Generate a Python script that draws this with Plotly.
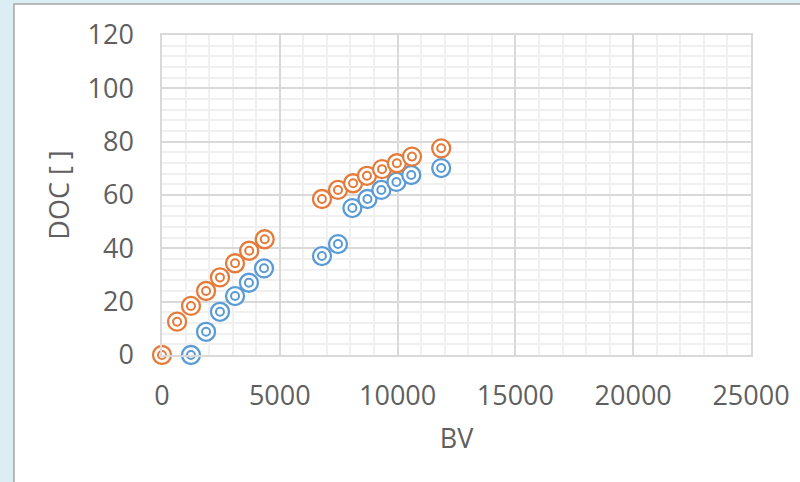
import plotly.graph_objects as go

# series
bv_blue = [1230, 1870, 2460, 3100, 3690, 4330, 6790, 7470, 8080, 8720, 9310, 9950, 10580, 11850]
doc_blue = [0, 8.7, 16.2, 22.1, 27.1, 32.5, 37.1, 41.6, 55.1, 58.5, 61.9, 64.9, 67.5, 70.1]

bv_orange = [0, 640, 1230, 1870, 2460, 3100, 3700, 4360, 6790, 7470, 8110, 8700, 9340, 9970, 10610, 11850]
doc_orange = [0, 12.5, 18.4, 24.0, 29.1, 34.4, 39.1, 43.4, 58.5, 61.9, 64.4, 67.2, 69.7, 71.9, 74.4, 77.5]

BLUE = "#5B9BD5"
ORANGE = "#E57B3A"

fig = go.Figure()


def add_ring_series(x, y, color, name):
    # outer ring
    fig.add_trace(go.Scatter(
        x=x, y=y, mode="markers", name=name, cliponaxis=False,
        marker=dict(symbol="circle", size=18, color="white",
                    line=dict(color=color, width=2.3)),
        showlegend=False,
    ))
    # inner ring
    fig.add_trace(go.Scatter(
        x=x, y=y, mode="markers", name=name, cliponaxis=False,
        marker=dict(symbol="circle-open", size=8, color=color,
                    line=dict(color=color, width=2)),
        showlegend=False,
    ))


add_ring_series(bv_blue, doc_blue, BLUE, "Series1")
add_ring_series(bv_orange, doc_orange, ORANGE, "Series2")

# white chart area with grey frame on light-blue page
fig.add_shape(
    type="rect", xref="paper", yref="paper",
    x0=-0.2513, x1=1.1, y0=-0.45, y1=1.097,
    fillcolor="white", line=dict(color="#A6A6A6", width=1.5),
    layer="below",
)

font = dict(family="Open Sans, sans-serif", size=27, color="#5F5F5F")

fig.update_layout(
    width=800, height=482,
    margin=dict(l=162, r=49, t=35, b=127),
    paper_bgcolor="#DAEEF3",
    plot_bgcolor="rgba(0,0,0,0)",
    font=font,
    showlegend=False,
)

fig.update_xaxes(
    range=[0, 25000], dtick=5000, tickformat="d", automargin=False,
    showgrid=True, gridcolor="#D9D9D9", gridwidth=1.5,
    minor=dict(dtick=1000, showgrid=True, gridcolor="#F0F0F0", gridwidth=1.5),
    showline=True, linecolor="#D9D9D9", linewidth=1.5, mirror=True,
    zeroline=False, ticks="", ticklabelstandoff=16,
    title=dict(text="BV", font=font, standoff=17),
)
fig.update_yaxes(
    range=[0, 120], dtick=20, automargin=False,
    showgrid=True, gridcolor="#D9D9D9", gridwidth=1.5,
    minor=dict(dtick=4, showgrid=True, gridcolor="#F0F0F0", gridwidth=1.5),
    showline=True, linecolor="#D9D9D9", linewidth=1.5, mirror=True,
    zeroline=False, ticks="", ticklabelstandoff=21,
    title=dict(text="DOC [ ]", font=font, standoff=10),
)

# drop the default page margin so the figure sits at the window corner
fig.write_html(
    "out.html",
    config={"displayModeBar": False},
    post_script="document.body.style.margin='0';document.body.style.background='#DAEEF3';",
)
